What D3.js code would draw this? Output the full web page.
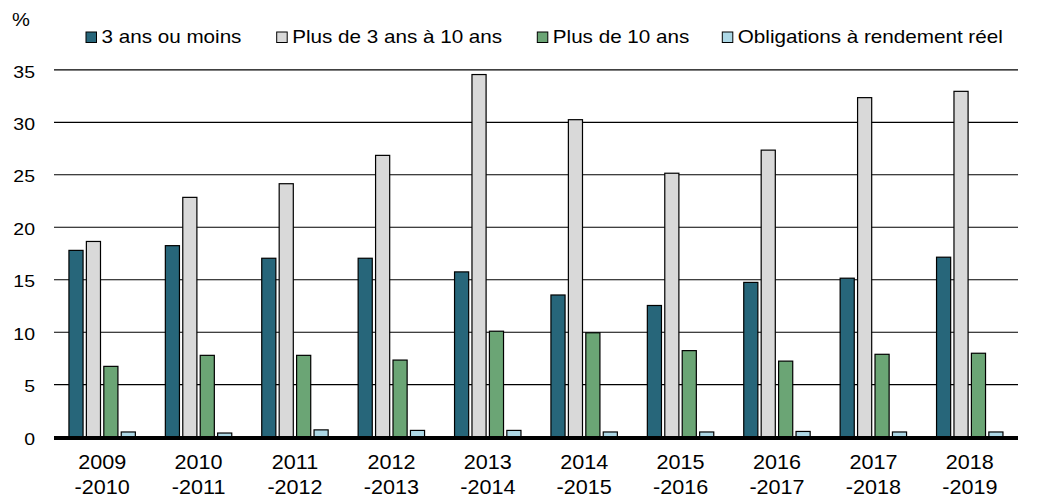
<!DOCTYPE html>
<html><head><meta charset="utf-8">
<script src="https://cdn.jsdelivr.net/npm/d3@7"></script>
<style>body{margin:0;background:#fff}svg{display:block}text{font-family:"Liberation Sans",Arial,sans-serif;fill:#000}</style>
</head><body>
<svg id="c" width="1044" height="502"></svg>
<script>
const categories = ["2009-2010","2010-2011","2011-2012","2012-2013","2013-2014","2014-2015","2015-2016","2016-2017","2017-2018","2018-2019"];
const seriesNames = ["3 ans ou moins","Plus de 3 ans à 10 ans","Plus de 10 ans","Obligations à rendement réel"];
const shortTerm = [17.75, 18.2, 17.0, 17.0, 15.7, 13.5, 12.5, 14.7, 15.1, 17.1];
const mediumTerm = [18.6, 22.8, 24.1, 26.8, 34.5, 30.2, 25.1, 27.3, 32.3, 32.9];
const longTerm = [6.7, 7.75, 7.75, 7.3, 10.05, 9.9, 8.2, 7.2, 7.85, 7.95];
const realReturn = [0.45, 0.35, 0.65, 0.6, 0.6, 0.45, 0.45, 0.5, 0.45, 0.45];
const yTicks = [0, 5, 10, 15, 20, 25, 30, 35];
const colors = ["#27667A", "#D9D9D9", "#6BA575", "#ADD8E6"];

const seriesValues = [shortTerm, mediumTerm, longTerm, realReturn];
const svg = d3.select("#c");
const mLeft = 54, mRight = 1018, mTop = 69.3, mBottom = 436.7;

const x0 = d3.scaleBand().domain(categories).range([mLeft, mRight]).paddingInner(0).paddingOuter(0);
const bw = x0.bandwidth();
const x1 = d3.scaleBand().domain(seriesNames).range([bw * 0.155, bw * 0.844]).paddingInner(0.19).paddingOuter(0);
const y = d3.scaleLinear().domain([0, 35]).range([mBottom, mTop]);

// grid + y labels
const yAxis = svg.append("g").attr("transform", `translate(${mLeft},0)`)
  .call(d3.axisLeft(y).tickValues(yTicks.filter(d => d > 0)).tickSize(-(mRight - mLeft)).tickFormat(d3.format("d")));
yAxis.select(".domain").remove();
yAxis.selectAll(".tick line").attr("stroke", "#000").attr("stroke-width", 1.2);
yAxis.selectAll(".tick text").attr("font-size", 16.5).attr("font-family", "Liberation Sans, Arial, sans-serif")
  .attr("fill", "#000")
  .attr("x", -19 / 1.18).attr("dy", 0).attr("y", 7.7).attr("transform", "scale(1.18,1)");
// zero label
svg.append("text").attr("transform", `translate(${mLeft - 19},${y(0) + 8}) scale(1.18,1)`)
  .attr("text-anchor", "end").attr("font-size", 16.5).text(yTicks[0]);

// bars
const groups = svg.append("g").selectAll("g").data(categories).join("g")
  .attr("transform", d => `translate(${x0(d)},0)`);
groups.selectAll("rect").data((d, i) => seriesNames.map((s, j) => ({s, v: seriesValues[j][i], c: colors[j]})))
  .join("rect")
  .attr("x", d => x1(d.s)).attr("width", x1.bandwidth())
  .attr("y", d => y(d.v)).attr("height", d => y(0) - y(d.v))
  .attr("fill", d => d.c).attr("stroke", "#000").attr("stroke-width", 1.2);

// baseline
svg.append("line").attr("x1", mLeft).attr("x2", mRight).attr("y1", y(0) + 1.3).attr("y2", y(0) + 1.3)
  .attr("stroke", "#000").attr("stroke-width", 4);

// x axis labels
const xAxis = svg.append("g").attr("transform", `translate(0,${y(0)})`)
  .call(d3.axisBottom(x0).tickSize(0).tickFormat(""));
xAxis.select(".domain").remove();
xAxis.selectAll(".tick").each(function(d) {
  const parts = d.split("-");
  const g = d3.select(this);
  g.append("text").attr("transform", "translate(0,32) scale(1.08,1)").attr("text-anchor", "middle")
    .attr("font-size", 20).attr("fill", "#000").text(parts[0]);
  g.append("text").attr("transform", "translate(0,57) scale(1.08,1)").attr("text-anchor", "middle")
    .attr("font-size", 20).attr("fill", "#000").text("-" + parts[1]);
});

// % label
svg.append("text").attr("transform", "translate(12,26) scale(1.15,1)").attr("font-size", 17.5).text("%");

// legend
const legendX = [86, 276.7, 537.3, 722.3];
const lg = svg.append("g").selectAll("g").data(seriesNames).join("g")
  .attr("transform", (d, i) => `translate(${legendX[i]},0)`);
lg.append("rect").attr("x", 0).attr("y", 32).attr("width", 10.5).attr("height", 10.5)
  .attr("fill", (d, i) => colors[i]).attr("stroke", "#000").attr("stroke-width", 1);
lg.append("text").attr("transform", "translate(15.5,43.3) scale(1.18,1)").attr("font-size", 17.5).text(d => d);
</script>
</body></html>
